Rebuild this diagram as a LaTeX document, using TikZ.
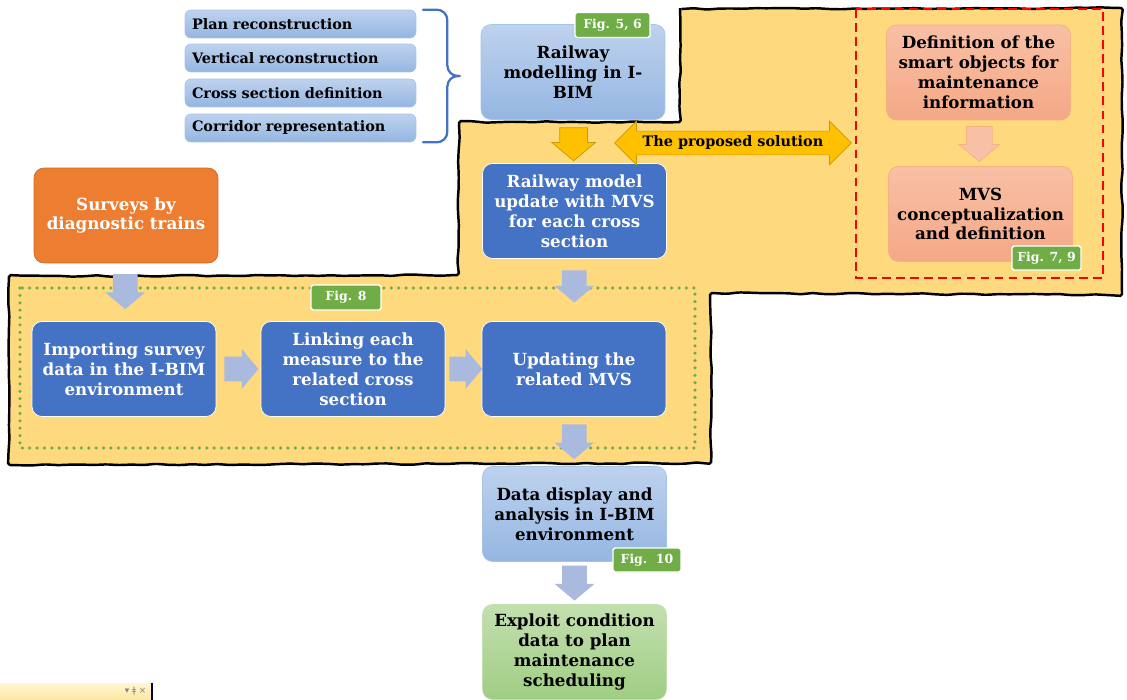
\documentclass[tikz,border=0pt]{standalone}
\usepackage{fontspec}
\setmainfont{DejaVu Serif}
\newfontfamily\symfont{DejaVu Sans}
\usetikzlibrary{arrows.meta, calc, shapes.arrows, decorations.pathmorphing}

\definecolor{box-blue}{HTML}{4472C4}
\definecolor{box-orange}{HTML}{ED7D31}
\definecolor{light-top}{HTML}{BED2EE}
\definecolor{light-bottom}{HTML}{95B6E1}
\definecolor{light-line}{HTML}{A7C3EA}
\definecolor{salmon-top}{HTML}{F8C0A6}
\definecolor{salmon-bottom}{HTML}{F4A886}
\definecolor{salmon-line}{HTML}{F4B183}
\definecolor{green-top}{HTML}{C3DFB0}
\definecolor{green-bottom}{HTML}{A0CD83}
\definecolor{fig-green}{HTML}{70AD47}
\definecolor{flow-grey}{HTML}{AABADF}
\definecolor{region-yellow}{HTML}{FFD97E}
\definecolor{gold}{HTML}{FFC000}
\definecolor{gold-dark}{HTML}{C99A00}
\definecolor{dock-top}{HTML}{FFF6D2}
\definecolor{dock-bottom}{HTML}{FCE6A0}

\begin{document}
\begin{tikzpicture}[
        x=0.02cm, y=-0.02cm,
        base-box/.style={
            rounded corners=0.2cm,
            minimum width=3.68cm,
            minimum height=1.9cm,
            inner sep=2pt,
            align=center,
            font=\fontsize{9.5}{11.3}\selectfont\bfseries,
        },
        dark-box/.style={base-box, fill=box-blue, draw=white, text=white},
        light-box/.style={base-box, top color=light-top, bottom color=light-bottom, draw=light-line},
        survey-box/.style={base-box, fill=box-orange, draw=box-orange!85!black, text=white},
        salmon-box/.style={base-box, top color=salmon-top, bottom color=salmon-bottom, draw=salmon-line},
        green-box/.style={base-box, top color=green-top, bottom color=green-bottom, draw=green-top},
        list-box/.style={
            rounded corners=0.12cm,
            minimum height=0.56cm,
            text width=4.34cm,
            inner xsep=0.14cm,
            inner ysep=0pt,
            align=left,
            top color=light-top, bottom color=light-bottom, draw=light-line,
            font=\fontsize{8.2}{9}\selectfont\bfseries,
        },
        fig-label/.style={
            fill=fig-green,
            draw=white,
            line width=0.8pt,
            rounded corners=1pt,
            text=white,
            minimum height=0.5cm,
            inner sep=0pt,
            font=\fontsize{7.1}{8}\selectfont\bfseries,
        },
        flow-arrow/.style={
            single arrow,
            fill=flow-grey,
            draw=none,
            inner xsep=0pt,
            inner ysep=0.24cm,
            minimum height=0.7cm,
            single arrow head extend=0.15cm,
            single arrow tip angle=100,
        },
        region-line/.style={
            fill=region-yellow,
            draw=black,
            line width=1.4pt,
            rounded corners=1pt,
            decorate,
            decoration={random steps, segment length=7pt, amplitude=0.45pt},
        },
    ]
    \useasboundingbox (0,0) rectangle (1127,700);

    \draw[region-line] (680,9) -- (1122,8) -- (1122,295) -- (711,293) -- (711,463)
        -- (9,465) -- (9,276) -- (458,275) -- (459,122) -- (680,122) -- cycle;

    \draw[fig-green, line width=2pt, line cap=round, dash pattern=on 0pt off 4.2pt] (20,288) rectangle (695,448);
    \draw[red, line width=1.6pt, dash pattern=on 5pt off 3pt] (856,9) rectangle (1103,278);

    \foreach \y/\name/\txt in {24/plan-rec/Plan reconstruction,
                               58/vert-rec/Vertical reconstruction,
                               93/cross-rec/Cross section definition,
                               128/corridor-rec/Corridor representation}
    {
        \node[list-box] (\name) at (300.5,\y) {\txt};
    }

    \coordinate (brace-top) at ($(plan-rec.north east)+(6,0)$);
    \coordinate (brace-bottom) at ($(corridor-rec.south east)+(6,0)$);
    \coordinate (brace-tip) at ($(brace-top)!0.5!(brace-bottom)+(38,0)$);
    \draw[box-blue, line width=1.3pt, rounded corners=6pt] (brace-top) -- ++(25,0) |- (brace-tip);
    \draw[box-blue, line width=1.3pt, rounded corners=6pt] (brace-bottom) -- ++(25,0) |- (brace-tip);

    \node[light-box] (modelling) at (573,72) {Railway\\modelling in I-\\BIM};
    \node[dark-box] (model-update) at (574.5,211) {Railway model\\update with MVS\\for each cross\\section};
    \node[survey-box] (surveys) at (126,215.5) {Surveys by\\diagnostic trains};
    \node[dark-box] (importing) at (124,369) {Importing survey\\data in the I-BIM\\environment};
    \node[dark-box] (linking) at (353,369) {Linking each\\measure to the\\related cross\\section};
    \node[dark-box] (updating) at (574,369) {Updating the\\related MVS};
    \node[light-box] (data-display) at (574.5,514) {Data display and\\analysis in I-BIM\\environment};
    \node[green-box] (exploit) at (574.5,652) {Exploit condition\\data to plan\\maintenance\\scheduling};
    \node[salmon-box] (definition) at (978.5,72.5) {Definition of the\\smart objects for\\maintenance\\information};
    \node[salmon-box] (mvs) at (980.5,214) {MVS\\conceptualization\\and definition};

    \node[flow-arrow, rotate=-90] (arrow-surveys) at ($(surveys.south)!0.4!(importing.north)$) {};
    \node[flow-arrow, minimum height=0.68cm] (arrow-import) at ($(importing.east)!0.45!(linking.west)$) {};
    \node[flow-arrow, minimum height=0.66cm] (arrow-link) at ($(linking.east)!0.42!(updating.west)$) {};
    \node[flow-arrow, rotate=-90, minimum height=0.64cm] (arrow-update) at ($(model-update.south)!0.36!(updating.north)$) {};
    \node[flow-arrow, rotate=-90] (arrow-display) at ($(updating.south)!0.4!(data-display.north)$) {};
    \node[flow-arrow, rotate=-90] (arrow-exploit) at ($(data-display.south)!0.38!(exploit.north)$) {};

    \node[flow-arrow, rotate=-90, fill=gold, draw=gold-dark, line width=0.4pt,
        minimum height=0.66cm, inner ysep=0.27cm, single arrow head extend=0.16cm]
        (arrow-model) at ($(modelling.south)!0.43!(model-update.north)$) {};
    \node[flow-arrow, rotate=-90, fill=salmon-top, draw=salmon-line, line width=0.4pt,
        minimum height=0.7cm, inner ysep=0.25cm, single arrow head extend=0.15cm]
        (arrow-smart) at ($(definition.south)!0.4!(mvs.north)$) {};

    \node[double arrow, fill=gold, draw=gold-dark, line width=0.4pt, inner xsep=0pt, inner ysep=2.6pt,
        minimum height=4.74cm, double arrow head extend=0.2cm,
        font=\fontsize{8.2}{9}\selectfont\bfseries] (proposed) at (733,143) {The proposed solution};

    \node[fig-label, minimum width=1.5cm] (fig-56) at (612.5,25) {Fig. 5, 6};
    \node[fig-label, minimum width=1.4cm] (fig-8) at (346,297.5) {Fig. 8};
    \node[fig-label, minimum width=1.38cm, minimum height=0.48cm] (fig-79) at (1046.5,258) {Fig. 7, 9};
    \node[fig-label, minimum width=1.36cm, minimum height=0.48cm] (fig-10) at (647,560) {Fig.~~10};

    \node[top color=dock-top, bottom color=dock-bottom, draw=none, minimum width=3.04cm,
        minimum height=0.34cm, inner sep=0pt] (dock-bar) at (76,691.5) {};
    \draw[black!70!blue, line width=1pt] (dock-bar.north east) -- (dock-bar.south east);
    \node[anchor=east, inner sep=1pt, text=black!50, font=\symfont\fontsize{5}{6}\selectfont]
        (dock-icons) at ($(dock-bar.east)+(-4,0)$) {▾ ǂ ×};
\end{tikzpicture}
\end{document}
